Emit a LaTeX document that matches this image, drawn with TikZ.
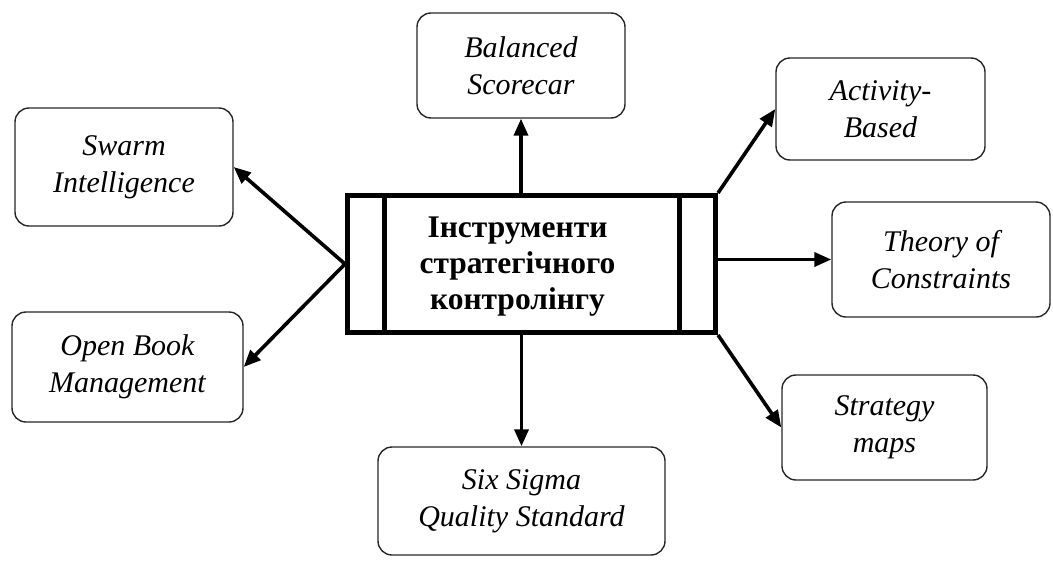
\documentclass[tikz,border=0pt]{standalone}
\usepackage{fontspec}
\setmainfont{Liberation Serif}
\usetikzlibrary{arrows.meta}
\begin{document}
\begin{tikzpicture}[x=1pt,y=-1pt,
  tool/.style={draw=black!85, line width=1.4pt, rounded corners=14pt,
    align=center, font=\fontsize{30}{37}\selectfont\itshape, inner sep=0pt},
  hub/.style={draw=black, line width=5pt, minimum width=368pt, minimum height=137pt, inner sep=0pt},
  link/.style={line width=3.6pt, -{Triangle[length=17pt,width=14pt]}}
]
\useasboundingbox (0,0) rectangle (1053,560);

% central block
\node[hub] (c) at (531.5,264) {};
\draw[line width=5pt] ([xshift=39pt]c.north west) -- ([xshift=39pt]c.south west);
\draw[line width=5pt] ([xshift=-39pt]c.north east) -- ([xshift=-39pt]c.south east);
\node[align=center, font=\fontsize{31.5}{36}\selectfont\bfseries, inner sep=0pt]
  (t) at ([xshift=-14pt,yshift=-3pt]c.center) {Інструменти\\стратегічного\\контролінгу};

% surrounding tools
\node[tool, minimum width=208pt, minimum height=105pt] (bal) at (521,65.5) {Balanced\\Scorecar};
\node[tool, minimum width=218pt, minimum height=118pt] (sw) at (124,167) {Swarm\\Intelligence};
\node[tool, minimum width=231pt, minimum height=110pt] (ob) at (127.5,367) {Open Book\\Management};
\node[tool, minimum width=209pt, minimum height=102pt] (ab) at (880.5,109) {Activity-\\Based};
\node[tool, minimum width=218pt, minimum height=115pt] (th) at (941,259.5) {Theory of\\Constraints};
\node[tool, minimum width=205pt, minimum height=105pt] (sm) at (884.5,427.5) {Strategy\\maps};
\node[tool, minimum width=287pt, minimum height=108pt] (ss) at (521.5,501) {Six Sigma\\Quality Standard};

% connectors
\draw[link] (c.north -| bal.south) -- (bal.south);
\draw[link] (c.south -| ss.north) -- (ss.north);
\draw[link] (c.west) -- (sw.east);
\draw[link] (c.west) -- (ob.east);
\draw[link] (c.north east) -- (ab.west);
\draw[link] (c.east |- th.west) -- (th.west);
\draw[link] (c.south east) -- (sm.west);
\end{tikzpicture}
\end{document}
